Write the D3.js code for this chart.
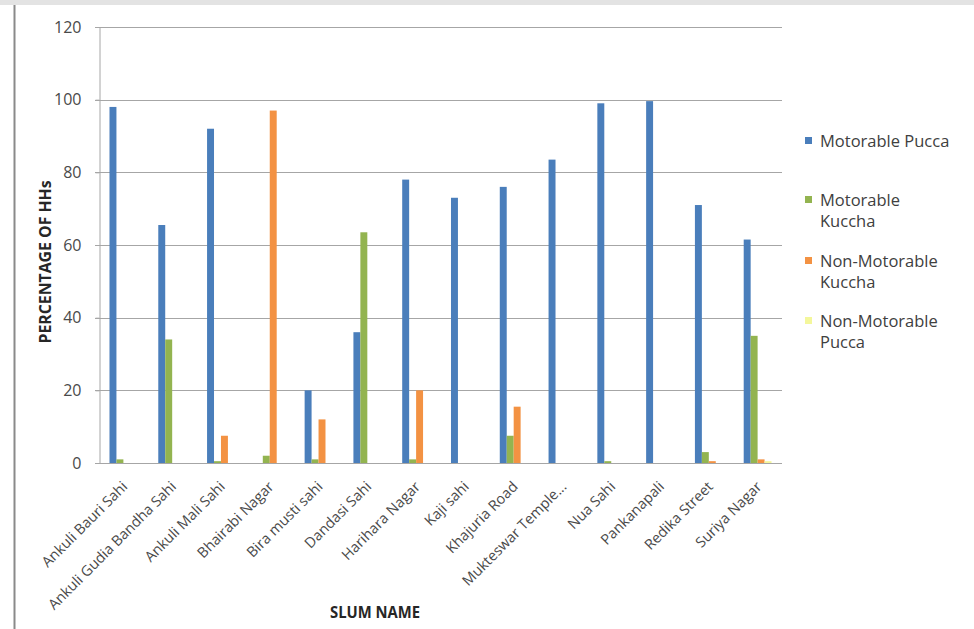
<!DOCTYPE html>
<html>
<head>
<meta charset="utf-8">
<script src="https://cdn.jsdelivr.net/npm/d3@7"></script>
<style>
  html, body { margin: 0; padding: 0; background: #ffffff; }
  svg { display: block; font-family: "Open Sans", "Noto Sans", sans-serif; }
</style>
</head>
<body>
<svg id="chart" width="974" height="629"></svg>
<script>
// Road type access by slum (percentage of households)
const categories = [
  "Ankuli Bauri Sahi", "Ankuli Gudia Bandha Sahi", "Ankuli Mali Sahi", "Bhairabi Nagar",
  "Bira musti sahi", "Dandasi Sahi", "Harihara Nagar", "Kaji sahi", "Khajuria Road",
  "Mukteswar Temple...", "Nua Sahi", "Pankanapali", "Redika Street", "Suriya Nagar"
];
const seriesNames = ["Motorable Pucca", "Motorable Kuccha", "Non-Motorable Kuccha", "Non-Motorable Pucca"];
const motorablePucca      = [98, 65.5, 92, 0, 20, 36, 78, 73, 76, 83.5, 99, 99.6, 71, 61.5];
const motorableKuccha     = [1, 34, 0.5, 2, 1, 63.5, 1, 0, 7.5, 0, 0.5, 0, 3, 35];
const nonMotorableKuccha  = [0, 0, 7.5, 97, 12, 0, 20, 0, 15.5, 0, 0, 0, 0.5, 1];
const nonMotorablePucca   = [0, 0, 0, 0, 0, 0, 0, 0, 0, 0, 0, 0, 0, 0.5];
const yTicks = [0, 20, 40, 60, 80, 100, 120];

const seriesValues = [motorablePucca, motorableKuccha, nonMotorableKuccha, nonMotorablePucca];
const colors = ["#4a7ebb", "#93b450", "#f39243", "#f4f79c"];
const legendLines = [["Motorable Pucca"], ["Motorable", "Kuccha"], ["Non-Motorable", "Kuccha"], ["Non-Motorable", "Pucca"]];

const svg = d3.select("#chart");

// frame pieces around the chart
svg.append("rect").attr("x", 0).attr("y", 0).attr("width", 974).attr("height", 5).attr("fill", "#e3e3e3");
svg.append("line").attr("x1", 14.5).attr("x2", 14.5).attr("y1", 5).attr("y2", 629)
  .attr("stroke", "#8a8a8a").attr("stroke-width", 2);

const plot = { left: 99, right: 782, top: 27, bottom: 463 };

const x = d3.scaleBand().domain(categories).range([plot.left, plot.right]).paddingInner(0.43).paddingOuter(0.215);
const xs = d3.scaleBand().domain(d3.range(seriesNames.length)).range([0, x.bandwidth()]);
const y = d3.scaleLinear().domain([0, 120]).range([plot.bottom, plot.top]);

// horizontal gridlines
svg.append("g")
  .selectAll("line").data(yTicks.filter(t => t > 0)).join("line")
  .attr("x1", plot.left - 4).attr("x2", plot.right)
  .attr("y1", d => Math.round(y(d)) + 0.5).attr("y2", d => Math.round(y(d)) + 0.5)
  .attr("stroke", "#a6a6a6").attr("stroke-width", 1);

// y axis
const yAxis = svg.append("g").attr("transform", `translate(${plot.left + 0.5},0)`)
  .call(d3.axisLeft(y).tickValues(yTicks).tickSize(4).tickPadding(14));
yAxis.select(".domain").attr("stroke", "#a6a6a6");
yAxis.selectAll(".tick line").attr("stroke", "#a6a6a6");
yAxis.selectAll(".tick text").attr("fill", "#4a4a4a").attr("font-size", 16).attr("font-family", "Open Sans");

// bars
const groups = svg.append("g").selectAll("g").data(categories).join("g")
  .attr("transform", d => `translate(${x(d)},0)`);
groups.selectAll("rect")
  .data((d, i) => seriesValues.map((vals, s) => ({ s, v: vals[i] })))
  .join("rect")
  .attr("x", d => xs(d.s))
  .attr("width", xs.bandwidth())
  .attr("y", d => y(d.v))
  .attr("height", d => y(0) - y(d.v))
  .attr("fill", d => colors[d.s]);

// x axis
const xAxis = svg.append("g").attr("transform", `translate(0,${plot.bottom + 0.5})`)
  .call(d3.axisBottom(x).tickSize(0).tickPadding(0));
xAxis.select(".domain").attr("stroke", "#a6a6a6").attr("d", `M${plot.left - 4},0H${plot.right}`);
xAxis.selectAll(".tick text")
  .attr("fill", "#4a4a4a").attr("font-size", 14.5).attr("font-family", "Open Sans")
  .attr("text-anchor", "end")
  .attr("dy", null).attr("y", 0)
  .attr("transform", "translate(5,24) rotate(-45)");

// axis titles
svg.append("text")
  .attr("transform", `translate(51,262) rotate(-90)`)
  .attr("text-anchor", "middle")
  .attr("font-size", 16).attr("font-weight", "bold").attr("fill", "#262626")
  .attr("textLength", 163).attr("lengthAdjust", "spacingAndGlyphs")
  .text("PERCENTAGE OF HHs");
svg.append("text")
  .attr("x", 375).attr("y", 618)
  .attr("text-anchor", "middle")
  .attr("font-size", 15.5).attr("font-weight", "bold").attr("fill", "#262626")
  .attr("textLength", 90).attr("lengthAdjust", "spacingAndGlyphs")
  .text("SLUM NAME");

// legend
const legendY = [141, 200, 261, 321];
const legend = svg.append("g").selectAll("g").data(seriesNames).join("g")
  .attr("transform", (d, i) => `translate(805,${legendY[i]})`);
legend.append("rect").attr("x", 0).attr("y", -4).attr("width", 7).attr("height", 7)
  .attr("fill", (d, i) => colors[i]);
legend.append("text").attr("x", 15).attr("y", 0)
  .attr("font-size", 16.5).attr("fill", "#404040")
  .selectAll("tspan").data((d, i) => legendLines[i]).join("tspan")
  .attr("x", 15).attr("dy", (d, j) => j === 0 ? "0.35em" : "1.3em")
  .text(d => d);
</script>
</body>
</html>
